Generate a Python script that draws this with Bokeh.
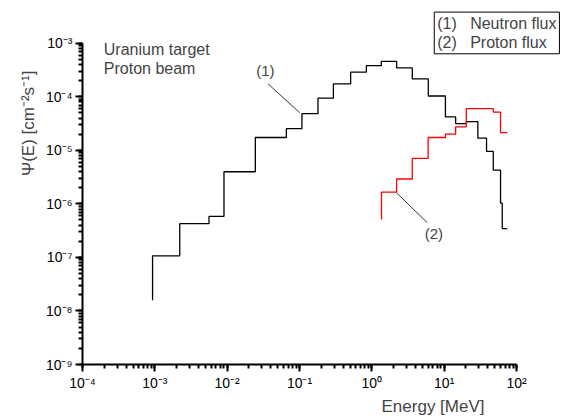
import math
from bokeh.plotting import figure
from bokeh.models import Range1d, LogTicker, CustomJSTickFormatter, Label, Title
from bokeh.embed import file_html
from bokeh.resources import INLINE

# ---------------- data ----------------
neutron_edges = [9.3e-4, 2.21e-3, 5.61e-3, 9.03e-3, 2.45e-2, 6.58e-2, 0.108, 0.180,
                 0.294, 0.509, 0.840, 1.35, 2.20, 3.62, 6.03, 10.4, 14.4, 20.2,
                 29.2, 38.5, 47.7, 60.1, 63.5, 74.5]
neutron_flux = [1.07e-7, 4.26e-7, 5.81e-7, 3.97e-6, 1.73e-5, 2.54e-5, 4.82e-5, 9.38e-5,
                1.73e-4, 2.87e-4, 3.79e-4, 4.56e-4, 3.44e-4, 2.15e-4, 1.03e-4, 4.20e-5,
                3.14e-5, 3.42e-5, 1.68e-5, 9.5e-6, 4.27e-6, 1.03e-6, 3.44e-7]
neutron_start = 1.59e-8

proton_edges = [1.36, 2.20, 3.62, 6.0, 10.4, 14.4, 20.2, 47.7, 60.1, 74.5]
proton_flux = [1.65e-6, 2.91e-6, 7.05e-6, 1.73e-5, 2.01e-5, 2.74e-5, 5.97e-5, 5.16e-5, 2.14e-5]
proton_start = 5.11e-7

x_limits = (1e-4, 1e2)
y_limits = (1e-9, 1e-3)

NB = "\u00a0"
legend_rows = [("(1)", "Neutron flux"), ("(2)", "Proton flux")]
title_lines = ["Uranium target", "Proton beam"]
x_label = "Energy [MeV]"
y_label = "\u03a8(E) [cm\u207b\u00b2s\u207b\u00b9]"

# annotation anchors (data coordinates)
ann1_text_pos = (0.0337, 3.06e-4)
ann1_line = ([0.0368, 0.1005], [1.73e-4, 5.03e-5])
ann2_text_pos = (7.21, 2.77e-7)
ann2_line = ([2.20, 5.84], [1.6e-6, 4.44e-7])
title_pos = (1.97e-4, [7.5e-4, 3.33e-4])
legend_pos = (7.29, 3.8e-3)

FONT = "Liberation Sans"


def stairs(edges, vals, start):
    xs = [edges[0]]
    ys = [start]
    for i, v in enumerate(vals):
        xs += [edges[i], edges[i + 1]]
        ys += [v, v]
    return xs, ys


# frame extends to the top and right edges of the canvas so that the
# legend / notes drawn there are not clipped; the axes are bounded.
X_DEC = 72.38   # pixels per decade (x)
Y_DEC = 54.0    # pixels per decade (y)
x_end = 10 ** (2 + 55 / X_DEC)
y_end = 10 ** (-3 + 43 / Y_DEC)

p = figure(width=571, height=416, x_axis_type="log", y_axis_type="log",
           x_range=Range1d(x_limits[0], x_end), y_range=Range1d(y_limits[0], y_end),
           output_backend="svg", toolbar_location=None,
           min_border_left=82, min_border_right=0, min_border_top=0, min_border_bottom=49)
p.outline_line_color = None
p.grid.visible = False
p.background_fill_color = "white"
p.border_fill_color = "white"

fmt_code = """
const sup = {'-':'\\u207b','0':'\\u2070','1':'\\u00b9','2':'\\u00b2','3':'\\u00b3','4':'\\u2074',
             '5':'\\u2075','6':'\\u2076','7':'\\u2077','8':'\\u2078','9':'\\u2079'};
const e = Math.round(Math.log10(tick));
return '10' + String(e).split('').map(c => sup[c]).join('');
"""

p.xaxis.ticker = LogTicker(num_minor_ticks=10, desired_num_ticks=8)
p.yaxis.ticker = LogTicker(num_minor_ticks=10, desired_num_ticks=8)
p.xaxis.bounds = x_limits
p.yaxis.bounds = y_limits
for ax in (p.xaxis, p.yaxis):
    ax.formatter = CustomJSTickFormatter(code=fmt_code)
    ax.axis_line_width = 2
    ax.axis_line_color = "black"
    ax.major_tick_line_width = 2
    ax.major_tick_line_color = "black"
    ax.minor_tick_line_width = 2
    ax.minor_tick_line_color = "black"
    ax.major_tick_in = 0
    ax.minor_tick_in = 0
    ax.major_tick_out = 7
    ax.minor_tick_out = 4
    ax.major_label_text_font = FONT
    ax.major_label_text_font_size = "14px"
    ax.major_label_text_color = "black"
    ax.major_label_standoff = 3

nx, ny = stairs(neutron_edges, neutron_flux, neutron_start)
p.line(nx, ny, line_color="black", line_width=1.3)
px_, py_ = stairs(proton_edges, proton_flux, proton_start)
p.line(px_, py_, line_color="#ff0000", line_width=1.3)

# leader lines
p.line(ann1_line[0], ann1_line[1], line_color="black", line_width=0.8)
p.line(ann2_line[0], ann2_line[1], line_color="black", line_width=0.8)

p.add_layout(Label(x=ann1_text_pos[0], y=ann1_text_pos[1], text="(1)", text_font=FONT,
                   text_font_size="15px", text_align="center", text_baseline="middle"))
p.add_layout(Label(x=ann2_text_pos[0], y=ann2_text_pos[1], text="(2)", text_font=FONT,
                   text_font_size="15px", text_align="center", text_baseline="middle"))

for line_text, yv in zip(title_lines, title_pos[1]):
    p.add_layout(Label(x=title_pos[0], y=yv, text=line_text, text_font=FONT,
                       text_font_size="16px", text_align="left", text_baseline="middle"))

# legend box (top right, above the axes area)
legend_text = "\n".join(f"{a}{NB}{NB}{NB}{b}" for a, b in legend_rows)
p.add_layout(Label(x=legend_pos[0], y=legend_pos[1], text=legend_text, text_font=FONT,
                   text_font_size="16px", text_align="left", text_baseline="top",
                   text_line_height=1.1,
                   border_line_color="black", border_line_width=1,
                   background_fill_color="white", padding=3))

# axis titles
p.add_layout(Title(text=x_label, align="right", offset=87, standoff=2,
                   text_font=FONT, text_font_size="17px", text_font_style="normal"), "below")
p.add_layout(Title(text=y_label, align="right", offset=70, standoff=10,
                   text_font=FONT, text_font_size="17px", text_font_style="normal"), "left")

open("out.html", "w").write(file_html(p, INLINE))
